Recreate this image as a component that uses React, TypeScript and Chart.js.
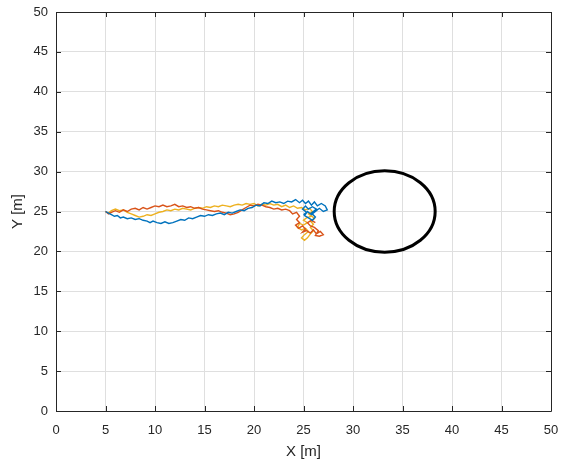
import React, { useEffect, useRef } from "react";
import { Chart, registerables } from "chart.js";

Chart.register(...registerables);

const xTicks = [0, 5, 10, 15, 20, 25, 30, 35, 40, 45, 50];
const yTicks = [0, 5, 10, 15, 20, 25, 30, 35, 40, 45, 50];

const blueX = [5.0, 5.3, 5.6, 5.9, 6.2, 6.5, 6.8, 7.2, 7.6, 8.0, 8.4, 8.8, 9.2, 9.5, 9.8, 10.2, 10.6, 11.0, 11.4, 11.8, 12.2, 12.6, 13.0, 13.4, 13.8, 14.2, 14.6, 15.0, 15.4, 15.8, 16.2, 16.6, 17.0, 17.4, 17.8, 18.2, 18.6, 19.0, 19.4, 19.8, 20.2, 20.6, 21.0, 21.4, 21.8, 22.2, 22.6, 23.0, 23.4, 23.8, 24.2, 24.6, 24.9, 25.2, 25.5, 25.8, 26.1, 26.4, 26.8, 27.2, 27.4, 27.0, 26.6, 26.2, 25.8, 25.4, 25.1, 25.5, 25.9, 26.2, 25.8, 26.3, 25.9, 25.5, 25.2, 24.9, 25.3, 25.0];
const blueY = [25.0, 24.8, 24.6, 24.4, 24.5, 24.2, 24.3, 24.1, 24.2, 24.0, 24.1, 23.9, 23.8, 23.6, 23.8, 23.6, 23.5, 23.7, 23.5, 23.6, 23.8, 24.0, 23.9, 24.2, 24.1, 24.3, 24.5, 24.4, 24.6, 24.5, 24.7, 24.8, 24.6, 24.9, 24.8, 25.0, 25.2, 25.1, 25.4, 25.5, 25.8, 25.7, 26.1, 26.0, 26.3, 26.1, 26.2, 26.0, 26.3, 26.2, 26.5, 26.1, 26.4, 26.0, 26.3, 25.8, 26.2, 25.7, 26.0, 25.7, 25.2, 25.0, 25.4, 25.0, 24.6, 25.0, 24.5, 24.2, 23.9, 24.3, 24.8, 25.3, 25.6, 25.3, 25.7, 25.3, 24.9, 24.6];

const redX = [5.0, 5.3, 5.6, 6.0, 6.4, 6.8, 7.2, 7.6, 8.0, 8.4, 8.8, 9.2, 9.6, 10.0, 10.4, 10.8, 11.2, 11.6, 12.0, 12.4, 12.8, 13.2, 13.6, 14.0, 14.4, 14.8, 15.2, 15.6, 16.0, 16.4, 16.8, 17.2, 17.6, 18.0, 18.4, 18.8, 19.2, 19.6, 20.0, 20.4, 20.8, 21.2, 21.6, 22.0, 22.4, 22.8, 23.2, 23.6, 23.9, 24.3, 24.6, 24.3, 24.6, 24.2, 24.5, 24.9, 25.2, 24.9, 25.3, 25.7, 26.0, 26.3, 26.7, 27.0, 26.6, 26.2, 26.5, 26.1, 25.7, 25.4, 25.8, 26.2];
const redY = [25.0, 24.7, 24.9, 25.1, 24.9, 25.2, 25.0, 25.3, 25.4, 25.2, 25.5, 25.3, 25.5, 25.7, 25.6, 25.8, 25.6, 25.7, 25.9, 25.6, 25.7, 25.5, 25.6, 25.4, 25.5, 25.3, 25.2, 25.1, 25.0, 25.1, 24.9, 24.8, 24.6, 24.7, 24.9, 25.2, 25.5, 25.8, 25.7, 25.9, 25.8, 25.6, 25.5, 25.3, 25.4, 25.2, 25.3, 25.1, 24.7, 24.9, 24.4, 24.0, 23.6, 23.3, 22.9, 23.2, 22.8, 22.4, 22.6, 22.3, 22.7, 22.2, 22.5, 22.1, 21.9, 22.0, 22.6, 23.0, 23.2, 23.6, 23.9, 23.6];

const yellowX = [5.0, 5.3, 5.6, 6.0, 6.4, 6.8, 7.2, 7.6, 8.0, 8.4, 8.8, 9.2, 9.6, 10.0, 10.4, 10.8, 11.2, 11.6, 12.0, 12.4, 12.8, 13.2, 13.6, 14.0, 14.4, 14.8, 15.2, 15.6, 16.0, 16.4, 16.8, 17.2, 17.6, 18.0, 18.4, 18.8, 19.2, 19.6, 20.0, 20.4, 20.8, 21.2, 21.6, 22.0, 22.4, 22.8, 23.2, 23.6, 24.0, 24.4, 24.8, 25.2, 25.6, 25.9, 25.5, 25.8, 25.3, 25.0, 25.4, 25.0, 24.6, 24.4, 24.8, 25.2, 25.5, 25.1, 24.8, 25.1, 25.4, 25.7, 26.0, 25.7, 26.0, 25.7, 26.1, 25.8];
const yellowY = [25.0, 24.8, 25.1, 25.3, 25.1, 25.2, 24.9, 24.7, 24.5, 24.3, 24.4, 24.6, 24.5, 24.7, 24.9, 25.0, 25.2, 25.1, 25.3, 25.2, 25.4, 25.3, 25.2, 25.4, 25.5, 25.4, 25.6, 25.5, 25.7, 25.6, 25.8, 25.7, 25.6, 25.8, 25.9, 25.8, 26.0, 25.9, 26.0, 25.7, 25.9, 25.8, 26.0, 25.8, 25.9, 25.6, 25.8, 25.5, 25.7, 25.4, 25.5, 25.2, 25.4, 25.0, 24.7, 24.4, 24.2, 23.9, 23.6, 23.3, 23.5, 23.0, 22.7, 22.9, 22.5, 22.1, 21.7, 21.4, 21.7, 22.2, 22.6, 23.0, 23.4, 23.8, 24.1, 24.5];

const circleCenterX = 33.2;
const circleCenterY = 25.0;
const circleRadius = 5.1;

const FONT = "'Liberation Sans', Arial, Helvetica, sans-serif";
const AXIS_COLOR = "#262626";

const toPoints = (xs: number[], ys: number[]) => xs.map((x, i) => ({ x, y: ys[i] }));

const boxPlugin = {
  id: "matlabBox",
  afterDatasetsDraw(chart: any) {
    const { ctx, scales } = chart;
    const xs = scales.x;
    const ys = scales.y;
    const cx = xs.getPixelForValue(circleCenterX);
    const cy = ys.getPixelForValue(circleCenterY);
    const rx = Math.abs(xs.getPixelForValue(circleCenterX + circleRadius) - cx);
    const ry = Math.abs(ys.getPixelForValue(circleCenterY + circleRadius) - cy);
    ctx.save();
    ctx.beginPath();
    ctx.ellipse(cx, cy, rx, ry, 0, 0, Math.PI * 2);
    ctx.strokeStyle = "#000000";
    ctx.lineWidth = 3;
    ctx.stroke();
    ctx.restore();
  },
  afterDraw(chart: any) {
    const { ctx, chartArea, scales } = chart;
    const { left, right, top, bottom } = chartArea;
    ctx.save();
    ctx.strokeStyle = AXIS_COLOR;
    ctx.lineWidth = 1;
    ctx.beginPath();
    ctx.rect(Math.round(left) + 0.5, Math.round(top) + 0.5, Math.round(right - left), Math.round(bottom - top));
    ctx.stroke();
    const tl = 5;
    ctx.beginPath();
    xTicks.forEach((v) => {
      const px = Math.round(scales.x.getPixelForValue(v)) + 0.5;
      ctx.moveTo(px, bottom);
      ctx.lineTo(px, bottom - tl);
      ctx.moveTo(px, top);
      ctx.lineTo(px, top + tl);
    });
    yTicks.forEach((v) => {
      const py = Math.round(scales.y.getPixelForValue(v)) + 0.5;
      ctx.moveTo(left, py);
      ctx.lineTo(left + tl, py);
      ctx.moveTo(right, py);
      ctx.lineTo(right - tl, py);
    });
    ctx.stroke();
    ctx.restore();
  },
};

export default function App() {
  const canvasRef = useRef<HTMLCanvasElement | null>(null);

  useEffect(() => {
    document.body.style.margin = "0";
    const canvas = canvasRef.current;
    if (!canvas) return;
    const lineDs = (label: string, xs: number[], ys: number[], color: string) => ({
      label,
      data: toPoints(xs, ys),
      showLine: true,
      borderColor: color,
      backgroundColor: color,
      borderWidth: 1.4,
      pointRadius: 0,
      tension: 0,
    });
    const chart = new Chart(canvas, {
      type: "scatter",
      data: {
        datasets: [
          lineDs("path 1", blueX, blueY, "#0072BD"),
          lineDs("path 2", redX, redY, "#D95319"),
          lineDs("path 3", yellowX, yellowY, "#EDB120"),
        ],
      },
      options: {
        responsive: false,
        animation: false,
        layout: { padding: { top: 12, right: 22, left: 0, bottom: 0 } },
        plugins: { legend: { display: false }, tooltip: { enabled: false } },
        scales: {
          x: {
            type: "linear",
            min: 0,
            max: 50,
            afterBuildTicks: (s: any) => {
              s.ticks = xTicks.map((v) => ({ value: v }));
            },
            afterFit: (s: any) => {
              s.height = 55;
              s.paddingLeft = 0;
              s.paddingRight = 0;
            },
            ticks: {
              color: AXIS_COLOR,
              font: { family: FONT, size: 13 },
              padding: 12,
              maxRotation: 0,
            },
            grid: { color: "#dfdfdf", drawTicks: false, lineWidth: 1 },
            border: { display: false },
            title: {
              display: true,
              text: "X [m]",
              color: AXIS_COLOR,
              font: { family: FONT, size: 15 },
              padding: { top: 0, bottom: 5 },
            },
          },
          y: {
            type: "linear",
            min: 0,
            max: 50,
            afterBuildTicks: (s: any) => {
              s.ticks = yTicks.map((v) => ({ value: v }));
            },
            afterFit: (s: any) => {
              s.width = 56;
              s.paddingTop = 0;
              s.paddingBottom = 0;
            },
            ticks: {
              color: AXIS_COLOR,
              font: { family: FONT, size: 13 },
              padding: 8,
            },
            grid: { color: "#dfdfdf", drawTicks: false, lineWidth: 1 },
            border: { display: false },
            title: {
              display: true,
              text: "Y [m]",
              color: AXIS_COLOR,
              font: { family: FONT, size: 15 },
              padding: { top: 9, bottom: 0 },
            },
          },
        },
      },
      plugins: [boxPlugin],
    });
    return () => chart.destroy();
  }, []);

  return (
    <div style={{ width: 573, height: 466, background: "#ffffff" }}>
      <canvas ref={canvasRef} width={573} height={466} style={{ display: "block" }} />
    </div>
  );
}
